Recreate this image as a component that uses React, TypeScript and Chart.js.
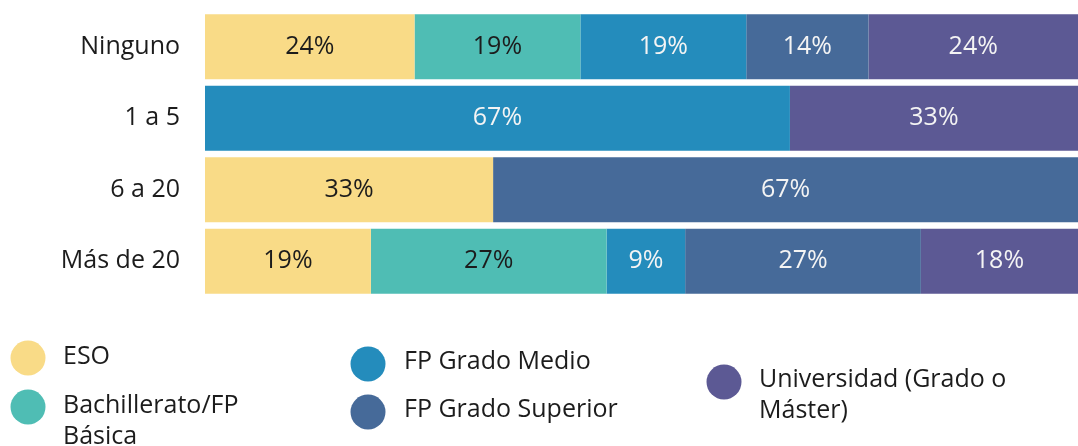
import React, { useEffect, useRef } from "react";
import { Chart, registerables } from "chart.js";

Chart.register(...registerables);

const categories = ["Ninguno", "1 a 5", "6 a 20", "Más de 20"];
const seriesNames = [
  "ESO",
  "Bachillerato/FP Básica",
  "FP Grado Medio",
  "FP Grado Superior",
  "Universidad (Grado o Máster)",
];
const esoValues = [24, 0, 33, 19];
const bachilleratoValues = [19, 0, 0, 27];
const fpMedioValues = [19, 67, 0, 9];
const fpSuperiorValues = [14, 0, 67, 27];
const universidadValues = [24, 33, 0, 18];

const seriesColors = ["#F9DB87", "#4FBDB4", "#248CBC", "#466A99", "#5C5994"];
const labelColors = ["#1c1c1c", "#1c1c1c", "#f4f4f4", "#f4f4f4", "#f4f4f4"];

const FONT = "'Open Sans', 'DejaVu Sans', sans-serif";
const FONT_SIZE = 25;

// legend layout: circle centre, text start, wrap width
const legendLayout = [
  { cx: 28, cy: 358, tx: 63, ty: 357, maxW: 215 },
  { cx: 28, cy: 407, tx: 63, ty: 406, maxW: 215 },
  { cx: 368, cy: 364, tx: 404, ty: 362, maxW: 290 },
  { cx: 368, cy: 412, tx: 404, ty: 410, maxW: 290 },
  { cx: 724, cy: 382, tx: 759, ty: 380, maxW: 290 },
];

const valueLabelPlugin = {
  id: "valueLabels",
  afterDatasetsDraw(chart: any) {
    const ctx = chart.ctx;
    ctx.save();
    ctx.font = `400 ${FONT_SIZE}px ${FONT}`;
    ctx.textAlign = "center";
    ctx.textBaseline = "middle";
    chart.data.datasets.forEach((ds: any, di: number) => {
      const meta = chart.getDatasetMeta(di);
      meta.data.forEach((el: any, i: number) => {
        const v = ds.data[i];
        if (!v) return;
        const { x, base, y } = el.getProps(["x", "base", "y"], true);
        ctx.fillStyle = labelColors[di];
        ctx.fillText(`${v}%`, (x + base) / 2, y);
      });
    });
    ctx.restore();
  },
};

const legendPlugin = {
  id: "customLegend",
  afterDraw(chart: any) {
    const ctx = chart.ctx;
    ctx.save();
    ctx.font = `400 ${FONT_SIZE}px ${FONT}`;
    ctx.textAlign = "left";
    ctx.textBaseline = "middle";
    chart.data.datasets.forEach((ds: any, di: number) => {
      const L = legendLayout[di];
      ctx.fillStyle = ds.backgroundColor;
      ctx.beginPath();
      ctx.arc(L.cx, L.cy, 17.5, 0, Math.PI * 2);
      ctx.fill();
      const words = String(ds.label).split(" ");
      const lines: string[] = [];
      let cur = "";
      words.forEach((w) => {
        const test = cur ? cur + " " + w : w;
        if (ctx.measureText(test).width > L.maxW && cur) {
          lines.push(cur);
          cur = w;
        } else cur = test;
      });
      if (cur) lines.push(cur);
      ctx.fillStyle = "#1c1c1c";
      lines.forEach((ln, li) => ctx.fillText(ln, L.tx, L.ty + li * 31));
    });
    ctx.restore();
  },
};

export default function App() {
  const canvasRef = useRef<HTMLCanvasElement | null>(null);

  useEffect(() => {
    if (!canvasRef.current) return;
    const seriesData = [
      esoValues,
      bachilleratoValues,
      fpMedioValues,
      fpSuperiorValues,
      universidadValues,
    ];
    const chart = new Chart(canvasRef.current, {
      type: "bar",
      data: {
        labels: categories,
        datasets: seriesNames.map((name, i) => ({
          label: name,
          data: seriesData[i],
          backgroundColor: seriesColors[i],
          borderWidth: 0,
          categoryPercentage: 1,
          barPercentage: 0.908,
        })),
      },
      options: {
        indexAxis: "y",
        animation: false,
        responsive: false,
        maintainAspectRatio: false,
        layout: { padding: { top: 11, bottom: 149, left: 0, right: 0 } },
        plugins: {
          legend: { display: false },
          tooltip: { enabled: false },
        },
        scales: {
          x: {
            stacked: true,
            min: 0,
            max: 100,
            display: false,
          },
          y: {
            stacked: true,
            grid: { display: false, drawTicks: false },
            border: { display: false },
            afterFit: (s: any) => {
              s.width = 205;
              s.paddingTop = 0;
              s.paddingBottom = 0;
            },
            ticks: {
              padding: 25,
              color: "#1c1c1c",
              font: { family: FONT, size: FONT_SIZE, weight: "400" },
            },
          },
        },
      },
      plugins: [valueLabelPlugin, legendPlugin],
    } as any);
    return () => chart.destroy();
  }, []);

  return (
    <div style={{ position: "absolute", left: 0, top: 0, width: 1078, height: 446 }}>
      <canvas ref={canvasRef} width={1078} height={446} style={{ width: 1078, height: 446 }} />
    </div>
  );
}
